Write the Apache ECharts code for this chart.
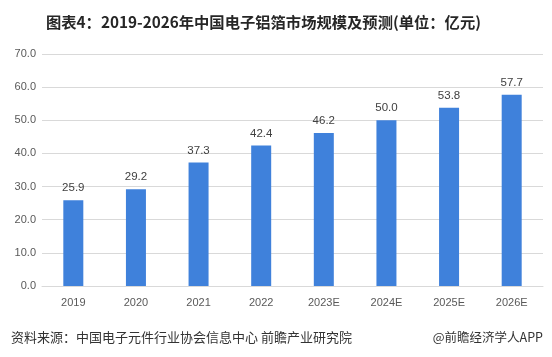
<!DOCTYPE html>
<html><head><meta charset="utf-8">
<script src="https://cdn.jsdelivr.net/npm/echarts@6/dist/echarts.min.js"></script>
<style>html,body{margin:0;padding:0;background:#fff}#c{width:552px;height:357px}</style>
</head><body><div id="c"></div>
<script>
var categories = ['2019','2020','2021','2022','2023E','2024E','2025E','2026E'];
var values = [25.9, 29.2, 37.3, 42.4, 46.2, 50.0, 53.8, 57.7];
var titleText = '图表4：2019-2026年中国电子铝箔市场规模及预测(单位：亿元)';
var sourceText = '资料来源：中国电子元件行业协会信息中心 前瞻产业研究院';
var brandText = '@前瞻经济学人APP';
var font = '"Noto Sans CJK SC", "Microsoft YaHei", sans-serif';
var chart = echarts.init(document.getElementById('c'));
chart.setOption({
  animation: false,
  title: [{
    text: titleText, left: 41, top: 10,
    textStyle: {fontFamily: font, fontSize: 15.3, fontWeight: 'bold', color: '#262626'}
  }, {
    text: sourceText, left: 6, top: 326,
    textStyle: {fontFamily: font, fontSize: 13, fontWeight: 'normal', color: '#333'}
  }, {
    text: brandText, right: 4, top: 326,
    textStyle: {fontFamily: font, fontSize: 12.5, fontWeight: 'normal', color: '#333'}
  }],
  grid: {left: 42, right: 9, top: 54, bottom: 71},
  xAxis: {
    type: 'category', data: categories,
    axisLine: {show: true, lineStyle: {color: '#d9d9d9'}},
    axisTick: {show: false},
    axisLabel: {color: '#595959', fontSize: 11, fontFamily: 'Liberation Sans, Arial, sans-serif', margin: 11}
  },
  yAxis: {
    type: 'value', min: 0, max: 70, interval: 10,
    axisLine: {show: false}, axisTick: {show: false},
    splitLine: {lineStyle: {color: '#d9d9d9'}},
    axisLabel: {color: '#595959', fontSize: 11, fontFamily: 'Liberation Sans, Arial, sans-serif', margin: 6,
      formatter: function(v){return v.toFixed(1);}}
  },
  series: [{
    type: 'bar', data: values, barWidth: 20,
    itemStyle: {color: '#3f81db'},
    label: {show: true, position: 'top', distance: 6, color: '#404040', fontSize: 11.5,
      fontFamily: 'Liberation Sans, Arial, sans-serif',
      formatter: function(p){return p.value.toFixed(1);}}
  }]
});
</script></body></html>
